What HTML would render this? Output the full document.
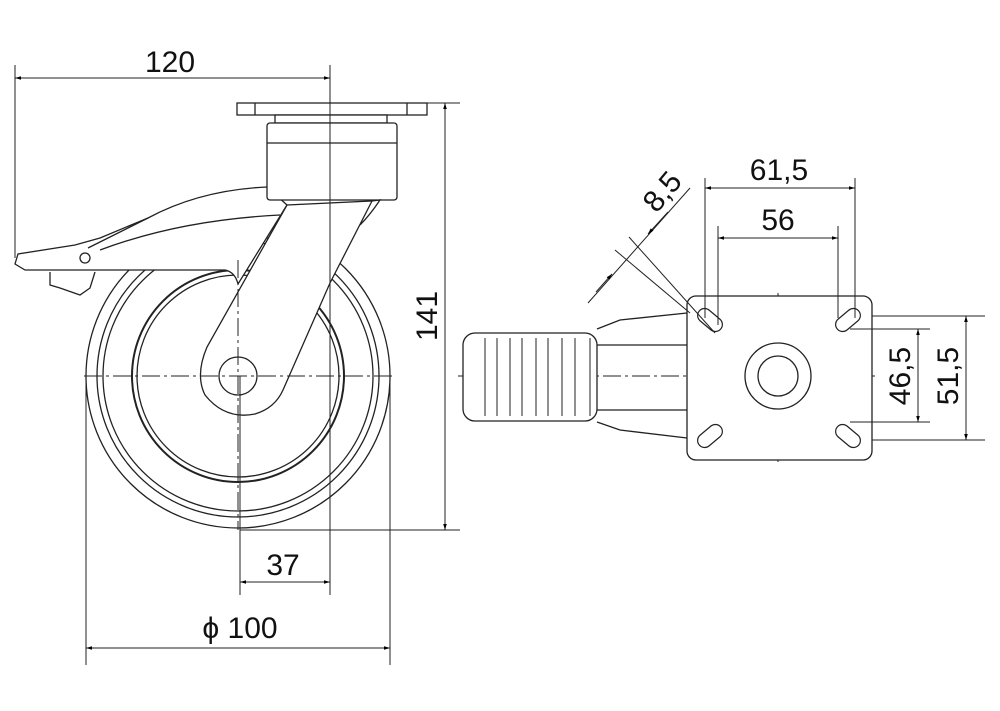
<!DOCTYPE html>
<html><head><style>body{margin:0;background:#fff}svg{display:block}</style></head><body>
<svg width="1000" height="711" viewBox="0 0 1000 711" xmlns="http://www.w3.org/2000/svg" font-family="Liberation Sans, sans-serif">
<defs>
<marker id="a" viewBox="0 0 10 10" refX="10" refY="5" markerWidth="14" markerHeight="6" orient="auto-start-reverse" markerUnits="userSpaceOnUse"><path d="M0,2 L10,5 L0,8 z" fill="#000"/></marker>
</defs>
<g fill="none" stroke="#222" stroke-width="1.3">
<!-- wheel -->
<circle cx="238" cy="376" r="152"/>
<circle cx="238" cy="376" r="141"/>
<circle cx="238" cy="376" r="135"/>
<circle cx="238" cy="376" r="106" stroke-width="2"/>
<circle cx="238" cy="376" r="101"/>
<!-- brake arm -->
<path d="M267,187 Q200,190 148,218 L100,238 L75,245 L18,254 L15,264 L25,270 L225,270 Q235,272 238,284 L287,205 Z" fill="#fff"/>
<path d="M148,218 L88,248 M100,250 Q180,220 280,215"/>
<circle cx="85" cy="258" r="5"/>
<path d="M50,272 L50,285 L60,288 L80,295 L90,288 L95,272"/>
<!-- fork -->
<path d="M287,205 L207,347 Q195,375 205,395 Q225,420 255,414 Q275,408 283,390 L330,283 L372,201 Z" fill="#fff"/>
<circle cx="238" cy="376" r="19" fill="#fff"/>
<!-- plate & housing -->
<rect x="237" y="103" width="190" height="12" fill="#fff"/>
<line x1="255" y1="103" x2="255" y2="115"/><line x1="407" y1="103" x2="407" y2="115"/>
<rect x="275" y="115" width="112" height="8" fill="#fff"/>
<rect x="267" y="123" width="130" height="77" rx="3" fill="#fff"/>
<line x1="267" y1="143" x2="397" y2="143"/>
<path d="M372,201 L380,200 Q370,215 360,225"/>
</g>
<!-- centre lines -->
<g stroke="#222" stroke-width="1" stroke-dasharray="18,4,3,4" fill="none">
<line x1="84" y1="376" x2="392" y2="376"/>
<line x1="238" y1="260" x2="238" y2="530"/>
<line x1="458" y1="376" x2="875" y2="376"/>
<line x1="778" y1="293" x2="778" y2="462"/>
</g>
<!-- dimensions left -->
<g stroke="#222" stroke-width="1" fill="none">
<line x1="15" y1="65" x2="15" y2="258"/>
<line x1="330" y1="65" x2="330" y2="595"/>
<line x1="15" y1="78" x2="330" y2="78" marker-start="url(#a)" marker-end="url(#a)"/>
<line x1="427" y1="103" x2="460" y2="103"/>
<line x1="240" y1="530" x2="460" y2="530"/>
<line x1="445" y1="103" x2="445" y2="530" marker-start="url(#a)" marker-end="url(#a)"/>
<line x1="240" y1="376" x2="240" y2="595"/>
<line x1="240" y1="582" x2="330" y2="582" marker-start="url(#a)" marker-end="url(#a)"/>
<line x1="86" y1="376" x2="86" y2="665"/>
<line x1="390" y1="376" x2="390" y2="665"/>
<line x1="86" y1="648" x2="390" y2="648" marker-start="url(#a)" marker-end="url(#a)"/>
</g>
<g font-size="30" fill="#111">
<text x="170" y="72" text-anchor="middle">120</text>
<text x="283" y="575" text-anchor="middle">37</text>
<text x="240" y="638" text-anchor="middle">ϕ 100</text>
<text transform="translate(437,316) rotate(-90)" text-anchor="middle">141</text>
</g>
<!-- right view -->
<g fill="none" stroke="#222" stroke-width="1.3">
<path d="M597,329 L620,320 L687,313 M597,422 L620,430 L687,438"/>
<line x1="597" y1="345" x2="687" y2="345"/><line x1="597" y1="410" x2="687" y2="410"/>
<rect x="463" y="333" width="134" height="88" rx="12" fill="#fff"/>
<g stroke-width="1">
<line x1="485" y1="338" x2="485" y2="416"/><line x1="497" y1="338" x2="497" y2="416"/>
<line x1="510" y1="338" x2="510" y2="416"/><line x1="522" y1="338" x2="522" y2="416"/>
<line x1="536" y1="338" x2="536" y2="416"/><line x1="548" y1="338" x2="548" y2="416"/>
<line x1="562" y1="338" x2="562" y2="416"/><line x1="575" y1="338" x2="575" y2="416"/>
<line x1="590" y1="338" x2="590" y2="416"/>
</g>
<rect x="687" y="296" width="185" height="164" rx="9" fill="#fff"/>
<circle cx="778" cy="376" r="33"/><circle cx="778" cy="376" r="20"/>
<g stroke-width="1.2">
<g transform="translate(710,320) rotate(40)"><rect x="-14" y="-7" width="28" height="14" rx="7"/></g>
<g transform="translate(848,320) rotate(-40)"><rect x="-14" y="-7" width="28" height="14" rx="7"/></g>
<g transform="translate(710,436) rotate(-40)"><rect x="-14" y="-7" width="28" height="14" rx="7"/></g>
<g transform="translate(848,436) rotate(40)"><rect x="-14" y="-7" width="28" height="14" rx="7"/></g>
</g>
</g>
<g stroke="#222" stroke-width="1" fill="none">
<line x1="705" y1="178" x2="705" y2="318"/>
<line x1="855" y1="178" x2="855" y2="318"/>
<line x1="705" y1="188" x2="855" y2="188" marker-start="url(#a)" marker-end="url(#a)"/>
<line x1="718" y1="226" x2="718" y2="325"/>
<line x1="838" y1="226" x2="838" y2="318"/>
<line x1="718" y1="238" x2="838" y2="238" marker-start="url(#a)" marker-end="url(#a)"/>
<line x1="872" y1="316" x2="985" y2="316"/>
<line x1="872" y1="440" x2="985" y2="440"/>
<line x1="966" y1="316" x2="966" y2="440" marker-start="url(#a)" marker-end="url(#a)"/>
<line x1="850" y1="329" x2="930" y2="329"/>
<line x1="850" y1="422" x2="930" y2="422"/>
<line x1="918" y1="329" x2="918" y2="422" marker-start="url(#a)" marker-end="url(#a)"/>
<line x1="588" y1="303" x2="690" y2="188"/>
<line x1="629" y1="237" x2="715" y2="333"/>
<line x1="615" y1="250" x2="690" y2="313"/>
<line x1="596" y1="292" x2="612" y2="274" marker-end="url(#a)"/>
<line x1="668" y1="212" x2="648" y2="234" marker-end="url(#a)"/>
</g>
<g font-size="30" fill="#111">
<text x="779" y="180" text-anchor="middle">61,5</text>
<text x="778" y="230" text-anchor="middle">56</text>
<text transform="translate(910,376) rotate(-90)" text-anchor="middle">46,5</text>
<text transform="translate(958,376) rotate(-90)" text-anchor="middle">51,5</text>
<text transform="translate(670,198) rotate(-50)" text-anchor="middle">8,5</text>
</g>
</svg>
</body></html>
